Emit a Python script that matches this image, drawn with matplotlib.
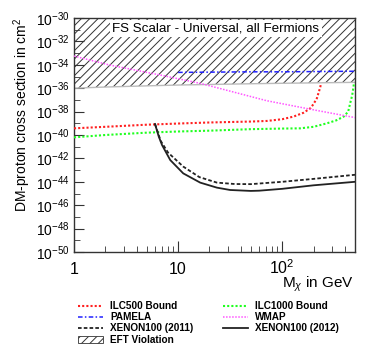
import matplotlib
matplotlib.use("Agg")
import matplotlib.pyplot as plt
from matplotlib.lines import Line2D
from matplotlib.patches import Patch
from matplotlib.ticker import NullFormatter
import numpy as np

plt.rcParams['font.family'] = ['Liberation Sans', 'DejaVu Sans']
plt.rcParams['mathtext.fontset'] = 'custom'
plt.rcParams['mathtext.rm'] = 'Liberation Sans'
plt.rcParams['mathtext.it'] = 'Liberation Sans:italic'
plt.rcParams['hatch.linewidth'] = 0.7

# values are log10 of cross section in cm^2
ilc500_m = [1, 2, 5, 10, 20, 50, 71, 100, 128, 160, 186, 200, 215, 225, 232, 236]
ilc500_s = [-39.43, -39.3, -39.12, -39.02, -38.93, -38.85, -38.8, -38.65, -38.43,
            -38.1, -37.72, -37.35, -36.87, -36.3, -35.9, -35.58]

ilc1000_m = [1, 2, 5, 10, 20, 50, 100, 149, 200, 269, 330, 389, 430, 449, 470, 486, 490]
ilc1000_s = [-40.2, -40.0, -39.8, -39.7, -39.63, -39.5, -39.45, -39.43, -39.3, -39.0,
             -38.75, -38.43, -38.0, -37.3, -36.6, -35.73, -35.55]

pamela_m = [10, 50, 100, 500]
pamela_s = [-34.65, -34.6, -34.6, -34.55]

wmap_m = [1, 2.2, 6.7, 16.2, 20.4, 71, 200, 486, 500]
wmap_s = [-33.25, -34.02, -34.87, -35.58, -35.81, -37.07, -37.85, -38.49, -38.52]

xe2011_m = [6.0, 6.8, 8.0, 11.2, 16, 23.6, 35, 50, 100, 200, 500]
xe2011_s = [-39.06, -40.5, -41.5, -42.7, -43.6, -44.07, -44.19, -44.2, -44.0, -43.75, -43.4]

xe2012_m = [6.0, 6.5, 7.0, 8.4, 11.2, 16.3, 23.6, 31.6, 50, 60, 100, 200, 500]
xe2012_s = [-39.06, -40.1, -40.85, -42.14, -43.28, -44.07, -44.5, -44.7, -44.78, -44.76,
            -44.6, -44.3, -44.0]

eft_m = [1, 2, 5, 10, 50, 100, 500]
eft_s = [-36.0, -35.9, -35.8, -35.73, -35.62, -35.58, -35.5]

fig = plt.figure(figsize=(3.74, 3.61), dpi=100)
ax = fig.add_axes([74/374, 109/361, 281/374, 234/361])

p = lambda v: 10**np.array(v)

ax.fill_between(eft_m, p(eft_s), 1e-30, facecolor='white', edgecolor='#333333',
                hatch='////', linewidth=0, zorder=1)
ax.plot(eft_m, p(eft_s), color='#bbbbbb', lw=1, zorder=2)

ax.plot(ilc500_m, p(ilc500_s), color='#ff2020', lw=1.5, ls=(0, (1, 1)), zorder=3)
ax.plot(ilc1000_m, p(ilc1000_s), color='#20ff20', lw=1.5, ls=(0, (1, 1)), zorder=3)
ax.plot(pamela_m, p(pamela_s), color='#2020ff', lw=1.1, ls=(0, (3, 1.5, 1, 1.5)), zorder=3)
ax.plot(wmap_m, p(wmap_s), color='#ff55ff', lw=1.1, ls=(0, (1, 1)), zorder=3)
ax.plot(xe2011_m, p(xe2011_s), color='#222222', lw=1.3, ls=(0, (2, 1.2)), zorder=3)
ax.plot(xe2012_m, p(xe2012_s), color='#222222', lw=1.3, zorder=3)

ax.set_xscale('log')
ax.set_yscale('log')
ax.set_xlim(1, 500)
ax.set_ylim(1e-50, 1e-30)

yt = [10.0**e for e in range(-50, -29, 2)]
ax.set_yticks(yt, [r'$10^{%d}$' % e for e in range(-50, -29, 2)])
ax.set_yticks([10.0**e for e in range(-49, -30, 2)], minor=True)
ax.yaxis.set_minor_formatter(NullFormatter())
ax.set_xticks([1, 10, 100], ['1', '10', r'$10^{2}$'])
ax.set_xticks([m * 10**d for d in range(0, 3) for m in range(2, 10) if m * 10**d <= 500],
              minor=True)
ax.xaxis.set_minor_formatter(NullFormatter())
ax.tick_params(which='both', direction='in', top=False, right=False, color='#333333')
ax.tick_params(axis='y', which='major', length=7, labelsize=10, pad=3)
ax.tick_params(axis='y', which='minor', length=4)
ax.tick_params(axis='x', which='major', length=8, labelsize=11.5, pad=16)
ax.tick_params(axis='x', which='minor', length=4)
for lab in ax.get_xticklabels():
    lab.set_verticalalignment('baseline')
for s in ax.spines.values():
    s.set_color('#333333')
    s.set_linewidth(1.0)

ax.text(0.505, 0.955, 'FS Scalar - Universal, all Fermions', transform=ax.transAxes,
        ha='center', va='center', fontsize=9.6, zorder=4,
        bbox=dict(facecolor='white', edgecolor='none', pad=2))

fig.text(22/374, 1 - 18/361, r'DM-proton cross section in cm$^{2}$', rotation=90,
         ha='center', va='top', fontsize=10)
fig.text(354/374, 1 - 288/361, r'M$_{\chi}$ in GeV', ha='right', va='baseline', fontsize=11)

handles = [
    Line2D([], [], color='#ff2020', lw=1.5, ls=(0, (1, 1))),
    Line2D([], [], color='#2020ff', lw=1.1, ls=(0, (3, 1.5, 1, 1.5))),
    Line2D([], [], color='#222222', lw=1.3, ls=(0, (2, 1.2))),
    Patch(facecolor='white', edgecolor='#333333', hatch='////', lw=0.6),
    Line2D([], [], color='#20ff20', lw=1.5, ls=(0, (1, 1))),
    Line2D([], [], color='#ff55ff', lw=1.1, ls=(0, (1, 1))),
    Line2D([], [], color='#222222', lw=1.3),
]
labels = ['ILC500 Bound', 'PAMELA', 'XENON100 (2011)', 'EFT Violation',
          'ILC1000 Bound', 'WMAP', 'XENON100 (2012)']
fig.legend(handles, labels, loc='upper left', bbox_to_anchor=(78/374, 1 - 301/361),
           ncol=2, frameon=False, prop={'size': 7.2, 'weight': 'bold'},
           handlelength=2.5, handletextpad=0.7, labelspacing=0.12,
           columnspacing=3.0, borderpad=0, borderaxespad=0)

fig.savefig('out.png', dpi=100)
